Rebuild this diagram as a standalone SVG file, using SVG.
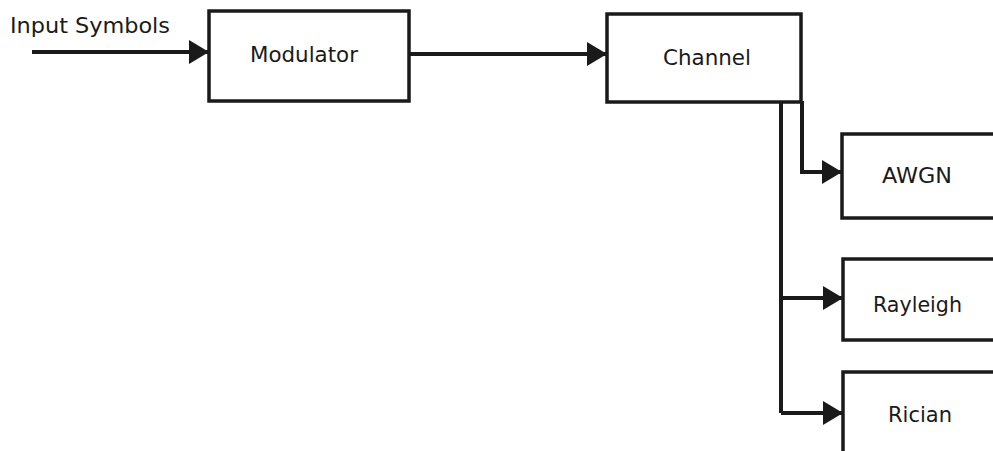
<svg xmlns="http://www.w3.org/2000/svg" width="993" height="451" viewBox="0 0 993 451">
  <style>
    .box { fill: #ffffff; stroke: #1a1a1a; stroke-width: 3.5; }
    .wire { fill: none; stroke: #1a1a1a; stroke-width: 4; }
    .lbl { font-family: "DejaVu Sans", Verdana, sans-serif; font-size: 21px; fill: #1a1a1a; }
  </style>
  <defs>
    <marker id="head" markerUnits="userSpaceOnUse" markerWidth="22" markerHeight="26" refX="20" refY="13" orient="auto">
      <path d="M0,1 L20,13 L0,25 z" fill="#1a1a1a"/>
    </marker>
  </defs>
  <rect width="993" height="451" fill="#ffffff"/>

  <g id="connectors">
    <path class="wire" d="M32,52 H209" marker-end="url(#head)"/>
    <path class="wire" d="M409,54 H607" marker-end="url(#head)"/>
    <path class="wire" d="M802,101 V172 H842" marker-end="url(#head)"/>
    <path class="wire" d="M781,102 V413"/>
    <path class="wire" d="M781,298 H843" marker-end="url(#head)"/>
    <path class="wire" d="M781,413 H843" marker-end="url(#head)"/>
  </g>

  <g id="input-label">
    <text class="lbl" x="10" y="33" textLength="160" lengthAdjust="spacingAndGlyphs">Input Symbols</text>
  </g>

  <g id="modulator">
    <rect class="box" x="209" y="11" width="200" height="90"/>
    <text class="lbl" x="250" y="62" textLength="108" lengthAdjust="spacingAndGlyphs">Modulator</text>
  </g>

  <g id="channel">
    <rect class="box" x="607" y="14" width="194" height="88"/>
    <text class="lbl" x="663" y="65" textLength="88" lengthAdjust="spacingAndGlyphs">Channel</text>
  </g>

  <g id="awgn">
    <rect class="box" x="842" y="134" width="170" height="84"/>
    <text class="lbl" x="882" y="183" textLength="70" lengthAdjust="spacingAndGlyphs">AWGN</text>
  </g>

  <g id="rayleigh">
    <rect class="box" x="843" y="259" width="170" height="81"/>
    <text class="lbl" x="873" y="312" textLength="89" lengthAdjust="spacingAndGlyphs">Rayleigh</text>
  </g>

  <g id="rician">
    <rect class="box" x="843" y="372" width="170" height="100"/>
    <text class="lbl" x="888" y="422" textLength="64" lengthAdjust="spacingAndGlyphs">Rician</text>
  </g>
</svg>
